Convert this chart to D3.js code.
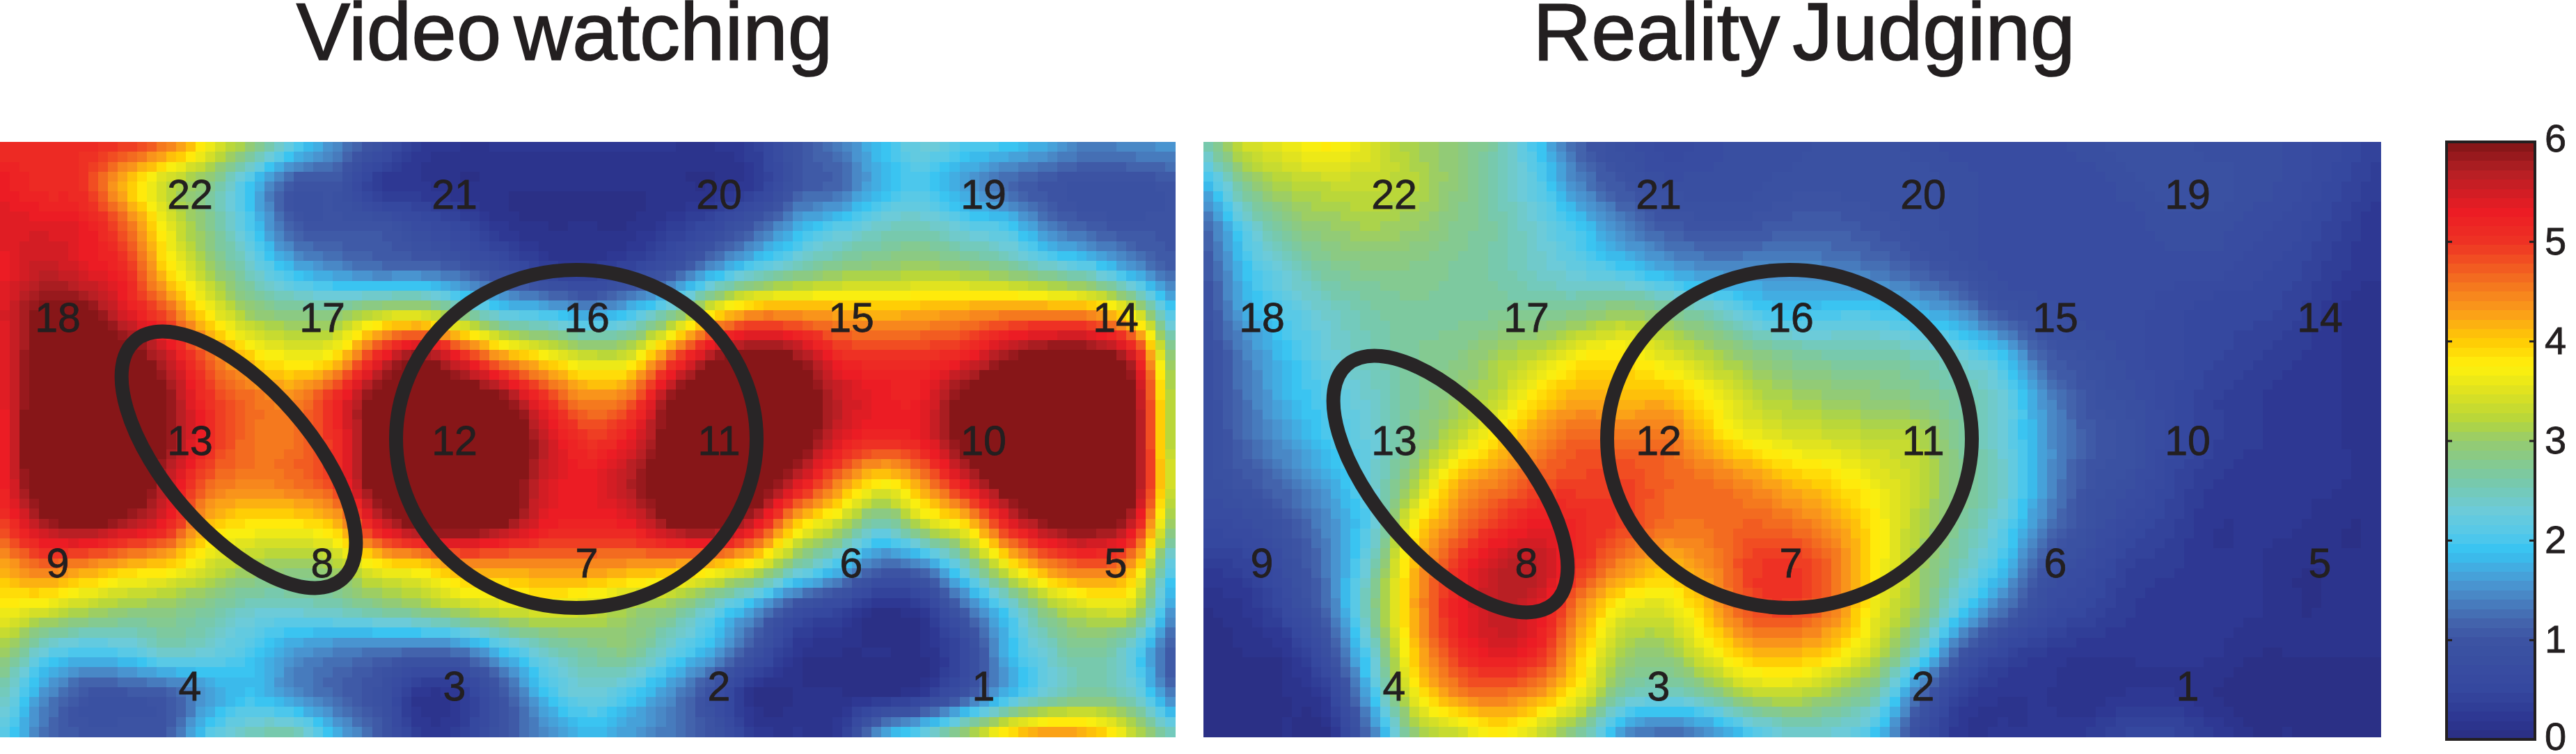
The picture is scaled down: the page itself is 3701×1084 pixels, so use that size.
<!DOCTYPE html>
<html><head><meta charset="utf-8">
<script src="https://cdn.jsdelivr.net/npm/d3@7"></script>
<style>html,body{margin:0;padding:0;background:#fff}svg{display:block}text{font-family:"Liberation Sans",Arial,sans-serif;fill:#231f20}</style>
</head><body><svg id="c" width="3701" height="1084"></svg>
<script>
const titles = ["Video watching", "Reality Judging"];
const channelRows = [[22,21,20,19],[18,17,16,15,14],[13,12,11,10],[9,8,7,6,5],[4,3,2,1]];
const colorbarTicks = [0,1,2,3,4,5,6];
const videoWatching = [
[5.1,5.1,5.1,5.0,4.6,3.7,3.0,2.2,1.5,0.9,0.3,0.2,0.2,0.2,0.2,0.2,0.2,0.2,0.4,1.0,1.4,1.9,2.3,2.1,2.0,1.7,1.4,1.5,1.6],
[5.3,5.1,5.0,4.1,3.3,2.8,1.9,1.0,1.0,0.3,0.2,0.1,0.1,0.1,0.1,0.1,0.1,0.1,0.3,1.0,1.2,1.8,2.0,1.6,1.2,1.0,0.9,0.9,1.0],
[5.4,5.4,5.3,4.7,3.6,2.8,2.0,1.1,1.0,1.0,0.7,0.5,0.2,0.1,0.1,0.1,0.3,0.6,1.1,1.7,2.1,2.4,2.5,2.2,2.0,1.4,1.1,1.0,1.0],
[5.3,5.6,5.4,5.1,3.9,3.1,2.4,1.8,1.5,1.3,1.3,1.1,0.8,0.4,0.3,0.5,0.9,1.6,2.2,2.6,2.9,3.0,3.1,3.0,2.8,2.5,2.2,1.6,1.1],
[5.4,6.0,6.0,5.4,4.7,3.7,3.0,2.8,2.8,3.2,3.3,2.7,2.1,1.9,1.6,1.9,2.6,3.7,4.3,4.3,4.2,4.1,4.2,4.3,4.4,4.4,4.3,3.5,1.9],
[5.3,6.2,6.5,6.2,5.5,4.6,3.9,3.6,3.8,5.1,5.8,5.1,4.2,3.7,3.3,3.4,4.6,5.7,6.1,5.8,5.1,5.0,5.0,5.2,5.8,6.1,6.1,5.4,2.7],
[5.3,6.3,6.5,6.5,5.9,5.0,4.6,4.4,5.1,6.1,6.5,6.3,5.9,5.0,4.4,4.6,5.9,6.5,6.6,6.3,5.6,5.3,5.3,6.1,6.5,6.6,6.5,6.0,3.0],
[5.2,6.4,6.5,6.5,5.9,5.1,4.6,4.6,5.1,6.2,6.7,6.7,6.4,5.6,5.0,5.3,6.2,6.7,6.6,6.2,5.4,5.1,5.3,6.1,6.6,6.7,6.7,6.1,3.0],
[5.2,6.3,6.6,6.4,5.6,4.7,4.5,4.6,5.0,6.2,6.7,6.7,6.3,5.5,5.3,5.7,6.3,6.7,6.4,5.5,4.5,3.8,4.4,5.4,6.2,6.7,6.6,6.1,3.2],
[4.9,5.7,6.0,5.7,5.2,4.1,3.8,3.8,4.1,5.4,6.1,6.2,5.9,5.3,5.2,5.3,5.9,6.1,5.4,4.0,3.3,2.5,3.3,3.9,5.2,5.9,6.1,5.5,2.8],
[4.2,4.6,4.4,4.1,3.9,3.4,3.1,3.0,3.1,3.7,3.9,4.3,4.3,4.4,4.4,4.3,4.2,4.0,3.5,2.6,1.9,1.2,1.4,2.4,3.6,4.4,4.7,4.2,2.0],
[3.7,3.5,3.2,3.0,2.9,2.7,2.4,2.4,2.5,2.7,2.9,3.2,3.4,3.5,3.4,3.1,2.9,2.3,1.6,0.8,0.5,0.1,0.3,1.2,2.1,3.0,3.4,3.3,1.5],
[3.1,2.3,2.0,2.1,2.4,2.3,2.0,1.6,1.4,1.3,1.2,1.3,1.9,2.4,2.7,2.8,2.2,1.7,0.9,0.2,0.1,0.1,0.1,0.6,1.8,2.4,2.7,2.2,1.0],
[2.5,1.6,1.0,1.0,1.1,1.6,1.9,1.5,1.2,0.9,0.2,0.3,1.0,1.9,2.3,2.0,1.5,0.8,0.1,0.1,0.1,0.1,0.3,1.0,1.8,2.4,2.7,2.4,1.3],
[2.2,1.3,1.0,1.0,1.1,2.1,2.5,2.6,1.8,1.1,0.3,0.4,1.0,1.4,1.8,1.6,1.3,1.0,0.3,0.2,0.3,1.7,2.3,3.1,4.0,4.4,4.2,3.4,2.5]
];
const realityJudging = [
[2.6,3.4,3.6,3.8,3.5,3.1,2.9,2.6,1.9,1.1,0.8,0.6,0.7,0.8,0.8,0.9,0.9,0.8,0.7,0.7,0.7,0.8,0.9,0.9,0.8,0.8,0.7,0.6,0.4],
[1.8,2.8,3.2,3.3,3.3,3.2,2.9,2.5,2.1,1.4,1.0,0.8,0.8,0.8,0.9,0.9,0.9,0.9,0.8,0.7,0.7,0.7,0.8,0.9,0.9,0.8,0.7,0.5,0.3],
[1.2,2.2,2.8,3.0,3.1,3.0,2.8,2.6,2.3,1.9,1.4,1.1,1.0,1.0,1.1,1.1,1.0,0.9,0.8,0.7,0.7,0.7,0.7,0.8,0.8,0.7,0.6,0.4,0.2],
[1.0,1.9,2.4,2.7,2.8,2.8,2.7,2.6,2.4,2.2,2.0,1.7,1.5,1.5,1.5,1.4,1.3,1.1,0.9,0.7,0.7,0.7,0.7,0.7,0.7,0.6,0.5,0.3,0.2],
[0.9,1.7,2.1,2.4,2.6,2.7,2.7,2.7,2.7,2.8,3.0,2.8,2.5,2.1,1.9,2.0,2.0,1.8,1.5,1.0,0.8,0.7,0.7,0.6,0.5,0.5,0.4,0.2,0.1],
[0.8,1.4,1.9,2.3,2.5,2.7,2.8,3.1,3.3,3.7,3.8,3.5,3.2,2.9,2.7,2.6,2.6,2.5,2.3,1.9,1.1,0.9,0.7,0.6,0.5,0.4,0.3,0.2,0.1],
[0.8,1.3,1.8,2.1,2.4,2.7,3.0,3.3,3.9,4.2,4.1,4.1,3.7,3.3,3.1,3.0,2.9,2.8,2.6,2.3,1.5,1.0,0.8,0.6,0.4,0.3,0.2,0.2,0.1],
[0.8,1.2,1.6,2.0,2.3,2.8,3.3,3.9,4.4,4.7,4.6,4.6,4.1,3.7,3.5,3.4,3.3,3.2,2.7,2.3,1.6,1.1,0.9,0.6,0.4,0.3,0.2,0.2,0.1],
[0.8,1.0,1.3,1.7,2.3,3.1,4.1,4.5,4.8,4.9,4.9,4.7,4.6,4.4,4.1,3.9,3.6,3.3,2.8,2.4,1.6,1.0,0.8,0.5,0.3,0.2,0.2,0.2,0.1],
[0.6,0.7,1.0,1.5,2.2,3.7,4.5,5.0,5.3,5.1,4.9,4.6,4.6,4.7,4.6,4.3,3.8,3.2,2.7,2.2,1.4,0.9,0.6,0.4,0.2,0.2,0.2,0.1,0.1],
[0.3,0.4,0.8,1.4,2.5,4.1,5.0,5.6,5.6,5.0,4.4,4.1,4.4,4.9,5.0,4.6,3.8,3.1,2.5,1.9,1.0,0.7,0.4,0.3,0.2,0.2,0.1,0.1,0.1],
[0.1,0.2,0.6,1.3,2.7,4.2,5.2,5.6,5.4,4.4,3.6,3.5,4.1,4.8,4.9,4.5,3.6,3.0,2.1,1.3,0.7,0.5,0.3,0.2,0.2,0.2,0.1,0.1,0.1],
[0.0,0.1,0.2,0.9,2.3,4.0,5.0,5.4,5.1,4.0,3.1,3.0,3.6,4.1,4.2,3.9,3.3,2.4,1.1,0.5,0.3,0.2,0.2,0.2,0.2,0.1,0.1,0.1,0.1],
[0.0,0.0,0.1,0.4,1.9,3.6,4.4,4.6,4.3,3.6,2.6,2.4,2.7,3.2,3.3,3.0,2.6,1.3,0.4,0.2,0.2,0.1,0.2,0.2,0.1,0.0,0.0,0.0,0.0],
[0.0,0.0,0.1,0.1,1.3,2.9,3.3,3.7,3.3,2.6,1.5,1.2,1.4,1.9,2.3,2.3,1.9,0.8,0.2,0.2,0.2,0.3,0.5,0.5,0.3,0.1,0.1,0.0,0.0]
];
const cmapValues = [0,0.2,0.5,1,1.2,1.5,1.7,1.9,2.05,2.3,2.6,3,3.2,3.5,3.75,4,4.3,4.6,5,5.3,5.7,6];
const cmapColors = ["#2b2e83","#2d3691","#35489f","#3c53a3","#4466ae","#4a8ecb","#44a9df","#36c3f2","#53c8ea","#6ccbd9","#78c9a9","#95cb6f","#b5d63c","#dfe220","#fff10c","#ffcc04","#fa9d1a","#f4711f","#ee3224","#ec1c24","#b51f24","#7f1416"];

const svg = d3.select("#c");
const ramp = d3.scaleLinear().domain(cmapValues).range(cmapColors).interpolate(d3.interpolateRgb).clamp(true);
const levels = d3.range(64).map(i => ramp((i + 0.5) / 64 * 6));
const color = d3.scaleQuantize().domain([0, 6]).range(levels);

const panels = [
  {title: titles[0], data: videoWatching, x0: 0, x1: 1688, titleX: 811, lab: [83, 1603]},
  {title: titles[1], data: realityJudging, x0: 1729, x1: 3420, titleX: 2592, lab: [1813, 3333]}
];
const Y0 = 204, Y1 = 1059, NX = 120, NY = 60;

function cr(p0, p1, p2, p3, t) {
  return 0.5 * (2*p1 + (p2-p0)*t + (2*p0-5*p1+4*p2-p3)*t*t + (3*p1-p0-3*p2+p3)*t*t*t);
}
function sample(m, u, v) {
  const h = m.length, w = m[0].length;
  const fy = v * (h-1), fx = u * (w-1);
  const iy = Math.min(Math.floor(fy), h-2), ix = Math.min(Math.floor(fx), w-2);
  const ty = fy-iy, tx = fx-ix;
  const row = j => { const r = m[Math.max(0, Math.min(h-1, j))];
    const g = i => r[Math.max(0, Math.min(w-1, i))];
    return cr(g(ix-1), g(ix), g(ix+1), g(ix+2), tx); };
  return cr(row(iy-1), row(iy), row(iy+1), row(iy+2), ty);
}

panels.forEach(p => {
  const gx = d3.scaleLinear().domain([0, NX]).range([p.x0, p.x1]);
  const gy = d3.scaleLinear().domain([0, NY]).range([Y0, Y1]);
  const cells = [];
  for (let j = 0; j < NY; j++) for (let i = 0; i < NX; i++)
    cells.push({i, j, v: sample(p.data, (i+0.5)/NX, (j+0.5)/NY)});
  svg.append("g").attr("shape-rendering", "crispEdges").selectAll("rect").data(cells).join("rect")
    .attr("x", d => gx(d.i)).attr("y", d => gy(d.j))
    .attr("width", gx(1)-gx(0)+0.6).attr("height", gy(1)-gy(0)+0.6)
    .attr("fill", d => color(Math.max(0, Math.min(5.999, d.v))));
  const lx = d3.scaleLinear().domain([0, 8]).range(p.lab);
  const ly = d3.scaleLinear().domain([0, 4]).range([279, 986]);
  channelRows.forEach((row, r) => row.forEach((ch, k) => {
    const col = row.length === 4 ? 1 + 2*k : 2*k;
    svg.append("text").attr("x", lx(col)).attr("y", ly(r)).attr("dy", "0.36em")
      .attr("text-anchor", "middle").attr("font-size", 59)
      .attr("stroke", "#231f20").attr("stroke-width", 0.8).text(ch);
  }));
  svg.append("text").attr("x", p.titleX).attr("y", 86).attr("text-anchor", "middle")
    .attr("font-size", 116).attr("word-spacing", -14)
    .attr("stroke", "#231f20").attr("stroke-width", 1.6).text(p.title);
});

// outlined regions of interest
[[828,631,259,243],[2571,631,262,243]].forEach(e =>
  svg.append("ellipse").attr("cx",e[0]).attr("cy",e[1]).attr("rx",e[2]).attr("ry",e[3])
    .attr("fill","none").attr("stroke","#282526").attr("stroke-width",20));
[[343,661],[2084,696]].forEach(e =>
  svg.append("ellipse").attr("rx",227).attr("ry",104).attr("transform",`translate(${e[0]},${e[1]}) rotate(49)`)
    .attr("fill","none").attr("stroke","#282526").attr("stroke-width",20));

// colorbar
const cbY = d3.scaleLinear().domain([0, 6]).range([1063, 204]);
const CBL = 3515, CBR = 3642;
svg.append("g").attr("shape-rendering","crispEdges").selectAll("rect").data(levels).join("rect")
  .attr("x", CBL).attr("width", CBR-CBL)
  .attr("y", (d,i) => cbY((i+1)/64*6)).attr("height", cbY(0)-cbY(6/64)+0.6)
  .attr("fill", d => d);
svg.append("rect").attr("x",CBL).attr("y",cbY(6)).attr("width",CBR-CBL).attr("height",cbY(0)-cbY(6))
  .attr("fill","none").attr("stroke","#231f20").attr("stroke-width",4);
const axis = d3.axisRight(cbY).tickValues(colorbarTicks).tickSizeInner(-8).tickSizeOuter(0).tickPadding(14).tickFormat(d3.format("d"));
const ag = svg.append("g").attr("transform",`translate(${CBR},0)`).call(axis);
ag.select(".domain").remove();
ag.selectAll(".tick line").attr("stroke","#231f20").attr("stroke-width",3);
ag.selectAll(".tick text").attr("font-size",56).attr("font-family",'"Liberation Sans",Arial,sans-serif').attr("fill","#231f20").attr("stroke","#231f20").attr("stroke-width",0.8);
ag.selectAll(".tick").filter(d => d===0 || d===6).select("line").remove();
ag.selectAll(".tick").filter(d => d===0).select("text").attr("y",-3);
ag.selectAll(".tick").filter(d => d===6).select("text").attr("y",-4);
// left-side inner ticks
const ag2 = svg.append("g").attr("transform",`translate(${CBL},0)`).call(d3.axisLeft(cbY).tickValues([1,2,3,4,5]).tickSizeInner(-8).tickSizeOuter(0).tickFormat(""));
ag2.select(".domain").remove();
ag2.selectAll(".tick line").attr("stroke","#231f20").attr("stroke-width",3);
</script></body></html>
